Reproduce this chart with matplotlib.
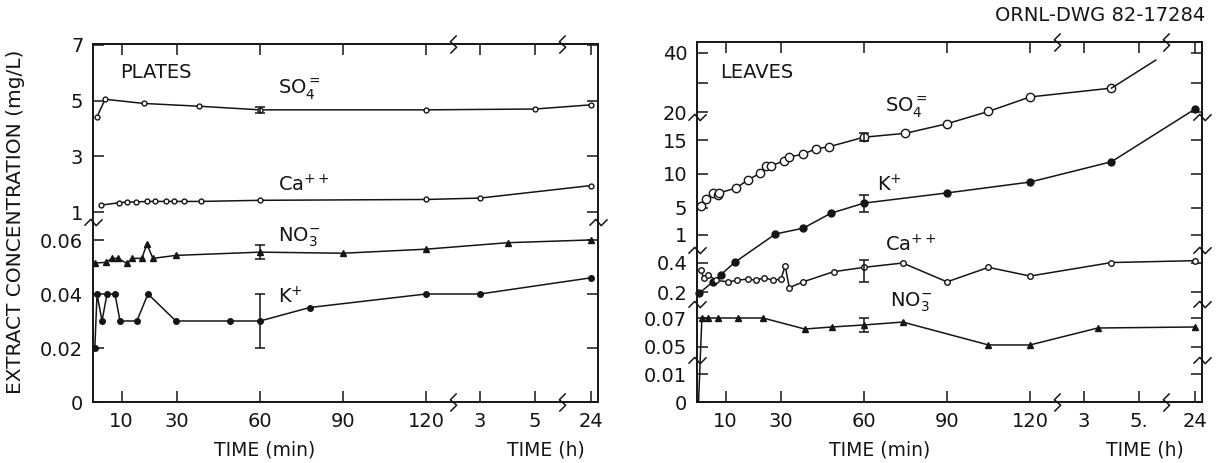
import numpy as np
import matplotlib
matplotlib.use("Agg")
import matplotlib.pyplot as plt
from matplotlib.path import Path
from matplotlib.ticker import NullLocator
from matplotlib.transforms import blended_transform_factory

plt.rcParams["font.family"] = ["DejaVu Sans"]
plt.rcParams["mathtext.default"] = "regular"

# ------------------------------------------------------------------ data
# time in minutes (3 h = 180, 4 h = 240, 5 h = 300, 24 h = 1440)
x_ticks = [10, 30, 60, 90, 120, 180, 300, 1440]
x_tick_labels_plates = ["10", "30", "60", "90", "120", "3", "5", "24"]
x_tick_labels_leaves = ["10", "30", "60", "90", "120", "3", "5.", "24"]

plates_y_ticks = [0, 0.02, 0.04, 0.06, 1, 3, 5, 7]
plates_y_tick_labels = ["0", "0.02", "0.04", "0.06", "1", "3", "5", "7"]
leaves_y_ticks = [0, 0.01, 0.05, 0.07, 0.2, 0.4, 1, 5, 10, 15, 20, 30, 40]
leaves_y_tick_labels = ["0", "0.01", "0.05", "0.07", "0.2", "0.4", "1",
                        "5", "10", "15", "20", "", "40"]

# PLATES
plates_so4_t = [1, 4, 18, 38, 60, 120, 300, 1440]
plates_so4_v = [4.4, 5.05, 4.9, 4.8, 4.67, 4.67, 4.7, 4.85]
plates_so4_err = [0, 0, 0, 0, 0.12, 0, 0, 0]

plates_ca_t = [2.5, 9, 12, 15, 19, 22, 26, 29, 32.5, 38.6, 60, 120, 180, 1440]
plates_ca_v = [1.25, 1.33, 1.36, 1.36, 1.38, 1.38, 1.38, 1.38, 1.38, 1.38,
               1.42, 1.45, 1.5, 1.95]

plates_no3_t = [0.5, 4.3, 6.5, 8.7, 11.9, 13.7, 17.3, 19.1, 21.3, 29.6, 60,
                90, 120, 240, 1440]
plates_no3_v = [0.0515, 0.0517, 0.0532, 0.0532, 0.0513, 0.0532, 0.0532,
                0.0585, 0.0532, 0.0543, 0.0555, 0.0551, 0.0566, 0.059, 0.062]
plates_no3_err = [0, 0, 0, 0, 0, 0, 0, 0, 0, 0, 0.0025, 0, 0, 0, 0]

plates_k_t = [0.3, 1.1, 2.9, 4.7, 7.6, 9.4, 15.5, 19.5, 29.6, 49, 60, 78,
              120, 180, 1440]
plates_k_v = [0.02, 0.04, 0.03, 0.04, 0.04, 0.03, 0.03, 0.04, 0.03, 0.03,
              0.03, 0.035, 0.04, 0.04, 0.046]
plates_k_err = [0, 0, 0, 0, 0, 0, 0, 0, 0, 0, 0.01, 0, 0, 0, 0]

# LEAVES
leaves_so4_t = [1, 3, 5.4, 7.2, 7.6, 13.7, 18, 22.4, 24.5, 26.4, 31, 32.9,
                37.9, 42.6, 47.3, 60, 75, 90, 105, 120, 240]
leaves_so4_v = [5.3, 6.3, 7.2, 6.9, 7.2, 7.9, 9.1, 10.1, 11.2, 11.2, 11.9,
                12.5, 12.9, 13.7, 14.0, 15.5, 16.2, 17.9, 20.2, 25.1, 28.1]
leaves_so4_err = [0] * 15 + [0.7] + [0] * 5
leaves_so4_tail_t = [240, 336]     # line continues off the last marker
leaves_so4_tail_v = [28.1, 37.6]

leaves_k_t = [0.5, 5.4, 8.3, 13.4, 28, 38, 48, 60, 90, 120, 240, 1440]
leaves_k_v = [0.195, 0.27, 0.32, 0.42, 1.15, 2.0, 4.2, 5.7, 7.2, 8.8, 11.8, 21.0]
leaves_k_err = [0, 0, 0, 0, 0, 0, 0, 1.25, 0, 0, 0, 0]

leaves_ca_t = [1, 2, 3.5, 6.5, 11, 14, 18, 21, 24, 27, 30, 31.5, 33, 38, 49,
               60, 74, 90, 105, 120, 240, 1440]
leaves_ca_v = [0.35, 0.30, 0.32, 0.28, 0.27, 0.28, 0.29, 0.28, 0.30, 0.28,
               0.29, 0.38, 0.23, 0.27, 0.34, 0.37, 0.40, 0.27, 0.37, 0.31,
               0.41, 0.45]
leaves_ca_err = [0] * 15 + [0.1] + [0] * 6

leaves_no3_t = [0.2, 1.4, 3.6, 7.2, 14.4, 23.5, 38.6, 48.4, 60, 74, 105, 120,
                210, 1440]
leaves_no3_v = [0.0, 0.07, 0.07, 0.07, 0.07, 0.07, 0.0624, 0.0638, 0.0652,
                0.0672, 0.0514, 0.0514, 0.0631, 0.0638]
leaves_no3_err = [0] * 8 + [0.005] + [0] * 5

# ------------------------------------------------------------------ layout
FIG_W, FIG_H = 1216, 463
AX_W = 505
# piecewise axis geometry (value -> pixel offset inside the axes)
X_ANCHOR_T = [-100.0, 0.0, 120.0, 180.0, 300.0, 360.0, 1440.0, 3000.0]
X_ANCHOR_P = [-276.0, 1.0, 333.0, 387.0, 442.0, 470.0, 498.0, 538.0]

YL_ANCHOR_V = [-1.0, 0.0, 0.06, 1.0, 7.0, 20.0]
YL_ANCHOR_P = [-2700.0, 0.0, 162.0, 190.0, 357.0, 719.0]

YR_ANCHOR_V = [-1.0, 0.0, 0.01, 0.05, 0.07, 0.2, 0.4, 1.0, 15.0, 20.0, 40.0, 100.0]
YR_ANCHOR_P = [-2800.0, 0.0, 28.0, 55.0, 84.0, 110.0, 139.0, 167.0, 262.0,
               290.0, 349.0, 526.0]


def make_funcs(av, ap):
    av = np.asarray(av)
    ap = np.asarray(ap)

    def fwd(v):
        return np.interp(np.asarray(v, dtype=float), av, ap)

    def inv(p):
        return np.interp(np.asarray(p, dtype=float), ap, av)
    return fwd, inv


xf, xi = make_funcs(X_ANCHOR_T, X_ANCHOR_P)
ylf, yli = make_funcs(YL_ANCHOR_V, YL_ANCHOR_P)
yrf, yri = make_funcs(YR_ANCHOR_V, YR_ANCHOR_P)

fig = plt.figure(figsize=(FIG_W / 100, FIG_H / 100), dpi=100)
axL = fig.add_axes([93 / FIG_W, 1 - 402 / FIG_H, AX_W / FIG_W, 358 / FIG_H])
axR = fig.add_axes([697 / FIG_W, 1 - 402 / FIG_H, AX_W / FIG_W, 360 / FIG_H])

INK = "#151515"
TICK_FS = 14

xbreak = Path([(-0.35, -1), (0.35, -0.3), (-0.35, 0.3), (0.35, 1)])
ybreak = Path([(-1, -0.35), (-0.3, 0.35), (0.3, -0.35), (1, 0.35)])


def style_axes(ax, yf, yi, height, yticks, yticklabels, xticklabels, ybreak_px):
    ax.set_xscale("function", functions=(xf, xi))
    ax.set_yscale("function", functions=(yf, yi))
    ax.set_xlim(float(xi(0)), float(xi(AX_W)))
    ax.set_ylim(float(yi(0)), float(yi(height)))
    ax.set_xticks(x_ticks)
    ax.set_xticklabels(xticklabels)
    ax.set_yticks(yticks)
    ax.set_yticklabels(yticklabels)
    ax.xaxis.set_minor_locator(NullLocator())
    ax.yaxis.set_minor_locator(NullLocator())
    ax.tick_params(direction="in", length=8, width=1.1, top=True, right=True,
                   labelsize=TICK_FS, colors=INK, pad=7)
    for s in ax.spines.values():
        s.set_linewidth(1.4)
        s.set_color(INK)
    # axis break symbols
    tx = blended_transform_factory(ax.transData, ax.transAxes)
    for px in (360, 469):
        bx = float(xi(px))
        ax.plot([bx, bx], [0, 1], transform=tx, ls="none", marker=xbreak,
                ms=13, mfc="none", mec=INK, mew=1.1, clip_on=False, zorder=5)
    ty = blended_transform_factory(ax.transAxes, ax.transData)
    for py in ybreak_px:
        by = float(yi(py))
        ax.plot([0, 1], [by, by], transform=ty, ls="none", marker=ybreak,
                ms=13, mfc="none", mec=INK, mew=1.1, clip_on=False, zorder=5)


style_axes(axL, ylf, yli, 358, plates_y_ticks, plates_y_tick_labels,
           x_tick_labels_plates, [180])
style_axes(axR, yrf, yri, 360, leaves_y_ticks, leaves_y_tick_labels,
           x_tick_labels_leaves, [42, 98, 152, 285])

LW = 1.1


def series(ax, t, v, marker, ms, filled, err=None, markevery=None):
    ax.plot(t, v, color=INK, lw=LW, marker=marker, ms=ms,
            mfc=INK if filled else "white", mec=INK, mew=1.0,
            markevery=markevery, clip_on=False, zorder=3)
    if err is not None:
        idx = [i for i, e in enumerate(err) if e > 0]
        ax.errorbar([t[i] for i in idx], [v[i] for i in idx],
                    yerr=[err[i] for i in idx], fmt="none", ecolor=INK,
                    elinewidth=1.1, capsize=3.5, capthick=1.1, zorder=4)


# PLATES
series(axL, plates_so4_t, plates_so4_v, "o", 3.5, False, plates_so4_err)
series(axL, plates_ca_t, plates_ca_v, "o", 3.5, False)
series(axL, plates_no3_t, plates_no3_v, "^", 4, True, plates_no3_err)
series(axL, plates_k_t, plates_k_v, "o", 4, True, plates_k_err)

# LEAVES
series(axR, leaves_so4_t, leaves_so4_v, "o", 6, False, leaves_so4_err)
axR.plot(leaves_so4_tail_t, leaves_so4_tail_v, color=INK, lw=LW, zorder=3)
series(axR, leaves_k_t, leaves_k_v, "o", 5, True, leaves_k_err)
series(axR, leaves_ca_t, leaves_ca_v, "o", 4, False, leaves_ca_err)
series(axR, leaves_no3_t, leaves_no3_v, "^", 5, True, leaves_no3_err,
       markevery=slice(1, None))

# ------------------------------------------------------------------ texts
LBL_FS = 14
axL.text(0.053, 0.919, "PLATES", transform=axL.transAxes, fontsize=LBL_FS,
         va="center", color=INK)
axL.text(0.366, 0.872, r"SO$_4^{=}$", transform=axL.transAxes, fontsize=LBL_FS,
         va="center", color=INK)
axL.text(0.366, 0.606, r"Ca$^{++}$", transform=axL.transAxes, fontsize=LBL_FS,
         va="center", color=INK)
axL.text(0.366, 0.461, r"NO$_3^{-}$", transform=axL.transAxes, fontsize=LBL_FS,
         va="center", color=INK)
axL.text(0.366, 0.293, r"K$^{+}$", transform=axL.transAxes, fontsize=LBL_FS,
         va="center", color=INK)

axR.text(0.046, 0.914, "LEAVES", transform=axR.transAxes, fontsize=LBL_FS,
         va="center", color=INK)
axR.text(0.372, 0.817, r"SO$_4^{=}$", transform=axR.transAxes, fontsize=LBL_FS,
         va="center", color=INK)
axR.text(0.356, 0.603, r"K$^{+}$", transform=axR.transAxes, fontsize=LBL_FS,
         va="center", color=INK)
axR.text(0.372, 0.436, r"Ca$^{++}$", transform=axR.transAxes, fontsize=LBL_FS,
         va="center", color=INK)
axR.text(0.382, 0.278, r"NO$_3^{-}$", transform=axR.transAxes, fontsize=LBL_FS,
         va="center", color=INK)

for ax, xm, xh in ((axL, 0.339, 0.897), (axR, 0.362, 0.887)):
    ax.text(xm, -0.133, "TIME (min)", transform=ax.transAxes, fontsize=13.5,
            ha="center", va="center", color=INK)
    ax.text(xh, -0.133, "TIME (h)", transform=ax.transAxes, fontsize=13.5,
            ha="center", va="center", color=INK)

fig.text(0.0125, 0.52, "EXTRACT CONCENTRATION (mg/L)", rotation=90,
         fontsize=14.5, ha="center", va="center", color=INK)
fig.text(0.991, 0.967, "ORNL-DWG 82-17284", fontsize=14, ha="right",
         va="center", color=INK)

fig.savefig("out.png", dpi=100)
